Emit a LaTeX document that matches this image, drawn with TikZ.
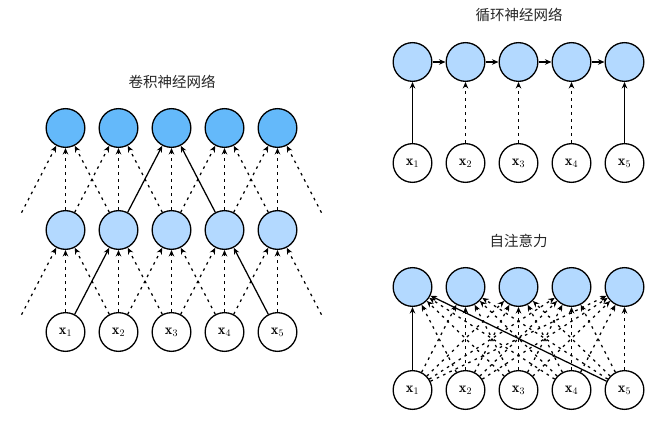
\documentclass[tikz,border=0pt]{standalone}
\usepackage{fontspec}
\newfontfamily\cjk{Noto Sans CJK SC}
\usetikzlibrary{arrows.meta}
\definecolor{deepblue}{RGB}{100,185,250}
\definecolor{paleblue}{RGB}{179,217,255}
\tikzset{
  unit/.style={circle, draw=black, line width=1.3pt, minimum size=38.7pt, inner sep=0pt, font=\Large},
  inp/.style={unit, fill=white},
  hid/.style={unit, fill=paleblue},
  outp/.style={unit, fill=deepblue},
  ghost/.style={circle, minimum size=38.7pt, inner sep=0pt},
  link/.style={line width=1.25pt, -{Stealth[length=6.5pt,width=5.5pt]}},
  faint/.style={link, dash pattern=on 2.6pt off 4.4pt},
  title/.style={font=\cjk\fontsize{14.5}{16}\selectfont, text=black!85}
}
\begin{document}
\begin{tikzpicture}[x=1pt,y=-1pt]
\useasboundingbox (0,0) rectangle (666,422);

% ---------- convolutional network ----------
\node[title] (cnntitle) at (172,81.5) {卷积神经网络};
\foreach \i in {1,...,5} {
  \node[inp]  (cx\i) at ({65.5+53*(\i-1)},332) {$\mathbf{x}_\i$};
  \node[hid]  (ch\i) at ({65.5+53*(\i-1)},230) {};
  \node[outp] (co\i) at ({65.5+53*(\i-1)},128) {};
}
% padding positions beyond both ends
\node[ghost] (cx0) at (12.5,332) {};
\node[ghost] (cx6) at (330.5,332) {};
\node[ghost] (ch0) at (12.5,230) {};
\node[ghost] (ch6) at (330.5,230) {};

\foreach \i in {1,...,5} {
  \pgfmathtruncatemacro\p{\i-1}
  \pgfmathtruncatemacro\n{\i+1}
  \draw[faint] (cx\i) -- (ch\i);
  \draw[faint] (ch\i) -- (co\i);
  \ifnum\i=2 \draw[link] (cx\p) -- (ch\i); \else \draw[faint] (cx\p) -- (ch\i); \fi
  \ifnum\i=4 \draw[link] (cx\n) -- (ch\i); \else \draw[faint] (cx\n) -- (ch\i); \fi
  \ifnum\i=3 \draw[link] (ch\p) -- (co\i); \else \draw[faint] (ch\p) -- (co\i); \fi
  \ifnum\i=3 \draw[link] (ch\n) -- (co\i); \else \draw[faint] (ch\n) -- (co\i); \fi
}

% ---------- recurrent network ----------
\node[title] (rnntitle) at (519,15) {循环神经网络};
\foreach \i in {1,...,5} {
  \node[inp] (rx\i) at ({412.5+53*(\i-1)},163) {$\mathbf{x}_\i$};
  \node[hid] (rh\i) at ({412.5+53*(\i-1)},62) {};
}
\foreach \i in {1,...,4} {
  \pgfmathtruncatemacro\n{\i+1}
  \draw[link] (rh\i) -- (rh\n);
}
\draw[link] (rx1) -- (rh1);
\draw[faint] (rx2) -- (rh2);
\draw[faint] (rx3) -- (rh3);
\draw[faint] (rx4) -- (rh4);
\draw[link] (rx5) -- (rh5);

% ---------- self-attention ----------
\node[title] (attntitle) at (518.5,240.5) {自注意力};
\foreach \i in {1,...,5} {
  \node[inp] (ax\i) at ({412.5+53*(\i-1)},390) {$\mathbf{x}_\i$};
  \node[hid] (ah\i) at ({412.5+53*(\i-1)},287) {};
}
\foreach \i in {1,...,5} {
  \foreach \j in {1,...,5} {
    \ifnum\i=1
      \ifnum\j=1 \else \ifnum\j=5 \else \draw[faint] (ax\j) -- (ah\i); \fi\fi
    \else
      \draw[faint] (ax\j) -- (ah\i);
    \fi
  }
}
\draw[link] (ax1) -- (ah1);
\draw[link] (ax5) -- (ah1);
\end{tikzpicture}
\end{document}
